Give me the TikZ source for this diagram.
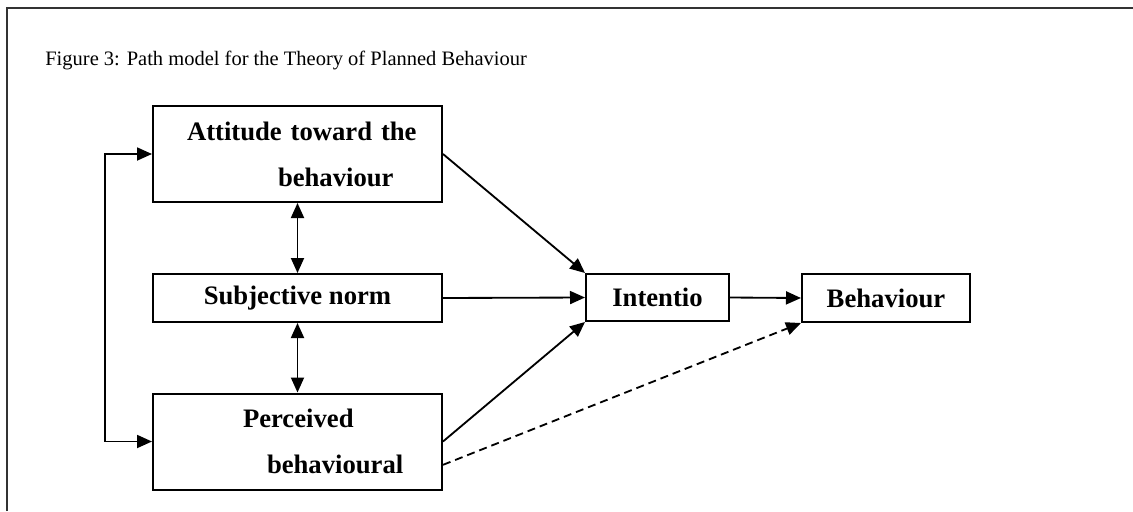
\documentclass[tikz,border=0pt]{standalone}
\usepackage{fontspec}
\setmainfont{Liberation Serif}
\usetikzlibrary{arrows.meta}
\usetikzlibrary{calc}

\begin{document}
\begin{tikzpicture}[x=0.6pt, y=-0.6pt,
        frame_style/.style={draw=black!80, line width=1.3pt},
        box_style/.style={rectangle,draw=black,line width=1.2pt,inner sep=0pt,font=\fontsize{16}{19}\selectfont\bfseries},
        wide_box_style/.style={box_style,text width=173.4pt,align=left,minimum height=57.6pt},
        edge_style/.style={draw=black, line width=1.1pt,-{Triangle[length=9pt,width=7.8pt]}},
        both_edge_style/.style={draw=black, line width=1.1pt,{Triangle[length=9pt,width=7.8pt]}-{Triangle[length=9pt,width=7.8pt]}},
        dashed_edge_style/.style={edge_style, dash pattern=on 4.8pt off 3pt}]

        \useasboundingbox (0,0) rectangle (1133,511);
        \draw [frame_style] (7,511) -- (7,8) -- (1133,8);

        \node [anchor=base west, inner sep=0pt, font=\fontsize{12.3}{14}\selectfont] (caption) at (45,65)
            {Figure 3: Path model for the Theory of Planned Behaviour};

        \node [wide_box_style](att) at (297.5,154)
            {\hspace*{20.4pt}Attitude toward the\\[8.6pt]\hspace*{75pt}behaviour};
        \node [box_style, minimum width=173.4pt, minimum height=28.8pt](subj) at (297.5,298) {Subjective norm};
        \node [wide_box_style](perc) at (297.5,441.5)
            {\hspace*{54pt}Perceived\\[8.6pt]\hspace*{68.4pt}behavioural};
        \node [box_style, minimum width=85.8pt, minimum height=28.2pt](intn) at (657.5,297.5) {Intentio};
        \node [box_style, minimum width=100.8pt, minimum height=28.8pt](behav) at (886,298) {Behaviour};

        \draw [both_edge_style] (att.west) -- ++(-47,0) |- (perc.west);
        \draw [both_edge_style] (att.south) -- (subj.north);
        \draw [both_edge_style] (subj.south) -- (perc.north);
        \draw [edge_style] (att.east) -- (intn.north west);
        \draw [edge_style] (subj.east) -- (intn.west);
        \draw [edge_style] (perc.east) -- (intn.south west);
        \draw [edge_style] (intn.east) -- (behav.west);
        \draw [dashed_edge_style] ([yshift=-14pt]perc.east) -- (behav.south west);
\end{tikzpicture}
\end{document}
